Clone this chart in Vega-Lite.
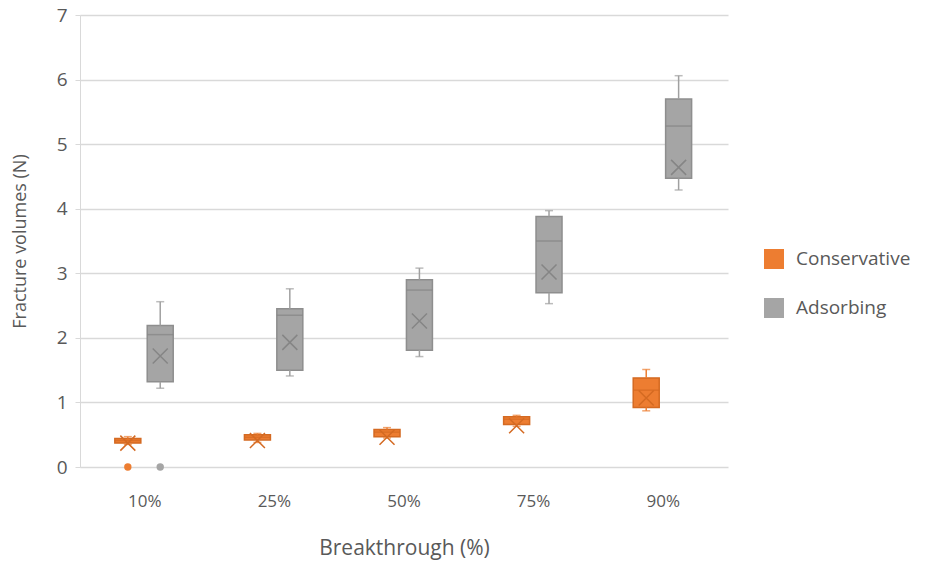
{
  "$schema": "https://vega.github.io/schema/vega-lite/v6.json",
  "width": 648,
  "height": 452,
  "autosize": "none",
  "padding": {"left": 80, "top": 15, "right": 197, "bottom": 96},
  "background": "white",
  "config": {
    "font": "Open Sans",
    "view": {"stroke": null}
  },
  "datasets": {
    "stats": [
      {"cat": "10%", "series": "Conservative", "min": 0.35, "q1": 0.37, "median": 0.41, "q3": 0.44, "max": 0.47, "mean": 0.37},
      {"cat": "25%", "series": "Conservative", "min": 0.38, "q1": 0.42, "median": 0.46, "q3": 0.5, "max": 0.52, "mean": 0.41},
      {"cat": "50%", "series": "Conservative", "min": 0.45, "q1": 0.47, "median": 0.54, "q3": 0.58, "max": 0.61, "mean": 0.46},
      {"cat": "75%", "series": "Conservative", "min": 0.63, "q1": 0.66, "median": 0.74, "q3": 0.78, "max": 0.8, "mean": 0.64},
      {"cat": "90%", "series": "Conservative", "min": 0.87, "q1": 0.92, "median": 1.19, "q3": 1.38, "max": 1.51, "mean": 1.07},
      {"cat": "10%", "series": "Adsorbing", "min": 1.22, "q1": 1.32, "median": 2.05, "q3": 2.19, "max": 2.56, "mean": 1.72},
      {"cat": "25%", "series": "Adsorbing", "min": 1.41, "q1": 1.5, "median": 2.35, "q3": 2.45, "max": 2.76, "mean": 1.93},
      {"cat": "50%", "series": "Adsorbing", "min": 1.71, "q1": 1.81, "median": 2.74, "q3": 2.9, "max": 3.08, "mean": 2.26},
      {"cat": "75%", "series": "Adsorbing", "min": 2.53, "q1": 2.7, "median": 3.5, "q3": 3.88, "max": 3.97, "mean": 3.02},
      {"cat": "90%", "series": "Adsorbing", "min": 4.29, "q1": 4.47, "median": 5.28, "q3": 5.7, "max": 6.06, "mean": 4.64}
    ],
    "outliers": [
      {"cat": "10%", "series": "Conservative", "value": 0},
      {"cat": "10%", "series": "Adsorbing", "value": 0}
    ]
  },
  "resolve": {"scale": {"color": "independent"}},
  "encoding": {
    "x": {
      "field": "cat", "type": "nominal", "sort": ["10%", "25%", "50%", "75%", "90%"],
      "scale": {"paddingInner": 0, "paddingOuter": 0},
      "axis": {
        "title": "Breakthrough (%)", "labelAngle": 0, "domain": false, "ticks": false,
        "labelFontSize": 17, "labelColor": "#595959", "labelPadding": 26,
        "titleFontSize": 21, "titleColor": "#595959", "titleFontWeight": "normal", "titlePadding": 28
      }
    },
    "xOffset": {
      "field": "series", "type": "nominal",
      "scale": {"domain": ["Conservative", "Adsorbing"], "paddingInner": 0, "paddingOuter": 1.31, "align": 0.488}
    }
  },
  "layer": [
    {
      "data": {"name": "stats"},
      "mark": {"type": "bar", "width": 26, "strokeWidth": 1.5},
      "encoding": {
        "y": {
          "field": "q1", "type": "quantitative",
          "scale": {"domain": [0, 7], "nice": false},
          "axis": {
            "title": "Fracture volumes (N)", "values": [0, 1, 2, 3, 4, 5, 6, 7], "format": "d",
            "grid": true, "gridColor": "#D9D9D9", "gridWidth": 1.3,
            "domainColor": "#D9D9D9", "tickColor": "#D9D9D9", "tickSize": 5,
            "labelFontSize": 19, "labelColor": "#595959", "labelPadding": 8,
            "titleFontSize": 18, "titleColor": "#595959", "titleFontWeight": "normal", "titlePadding": 27
          }
        },
        "y2": {"field": "q3"},
        "color": {
          "field": "series", "type": "nominal", "title": null,
          "scale": {"domain": ["Conservative", "Adsorbing"], "range": ["#ED7D31", "#A5A5A5"]},
          "legend": {
            "orient": "none", "legendX": 683, "legendY": 233,
            "symbolType": "square", "symbolSize": 400, "symbolStrokeWidth": 1.2,
            "labelFontSize": 19, "labelColor": "#595959", "labelOffset": 11,
            "rowPadding": 28, "labelLimit": 300
          }
        },
        "stroke": {
          "field": "series", "type": "nominal",
          "scale": {"domain": ["Conservative", "Adsorbing"], "range": ["#D46A22", "#8E8E8E"]},
          "legend": null
        }
      }
    },
    {
      "data": {"name": "stats"},
      "mark": {"type": "rule", "strokeWidth": 1.5},
      "encoding": {
        "y": {"field": "min", "type": "quantitative"},
        "y2": {"field": "q1"},
        "color": {"field": "series", "type": "nominal", "scale": {"domain": ["Conservative", "Adsorbing"], "range": ["#ED7D31", "#A0A0A0"]}, "legend": null}
      }
    },
    {
      "data": {"name": "stats"},
      "mark": {"type": "rule", "strokeWidth": 1.5},
      "encoding": {
        "y": {"field": "q3", "type": "quantitative"},
        "y2": {"field": "max"},
        "color": {"field": "series", "type": "nominal", "scale": {"domain": ["Conservative", "Adsorbing"], "range": ["#ED7D31", "#A0A0A0"]}, "legend": null}
      }
    },
    {
      "data": {"name": "stats"},
      "mark": {"type": "tick", "size": 8, "thickness": 1.5},
      "encoding": {
        "y": {"field": "max", "type": "quantitative"},
        "color": {"field": "series", "type": "nominal", "scale": {"domain": ["Conservative", "Adsorbing"], "range": ["#ED7D31", "#A0A0A0"]}, "legend": null}
      }
    },
    {
      "data": {"name": "stats"},
      "mark": {"type": "tick", "size": 8, "thickness": 1.5},
      "encoding": {
        "y": {"field": "min", "type": "quantitative"},
        "color": {"field": "series", "type": "nominal", "scale": {"domain": ["Conservative", "Adsorbing"], "range": ["#ED7D31", "#A0A0A0"]}, "legend": null}
      }
    },
    {
      "data": {"name": "stats"},
      "mark": {"type": "tick", "size": 26, "thickness": 1.5},
      "encoding": {
        "y": {"field": "median", "type": "quantitative"},
        "color": {"field": "series", "type": "nominal", "scale": {"domain": ["Conservative", "Adsorbing"], "range": ["#D46A22", "#858585"]}, "legend": null}
      }
    },
    {
      "data": {"name": "stats"},
      "mark": {"type": "point", "shape": "M-1,-1L1,1M1,-1L-1,1", "size": 225, "filled": false, "strokeWidth": 1.5, "opacity": 1},
      "encoding": {
        "y": {"field": "mean", "type": "quantitative"},
        "color": {"field": "series", "type": "nominal", "scale": {"domain": ["Conservative", "Adsorbing"], "range": ["#D46A22", "#858585"]}, "legend": null}
      }
    },
    {
      "data": {"name": "outliers"},
      "mark": {"type": "point", "shape": "circle", "size": 55, "filled": true, "opacity": 1},
      "encoding": {
        "y": {"field": "value", "type": "quantitative"},
        "color": {"field": "series", "type": "nominal", "scale": {"domain": ["Conservative", "Adsorbing"], "range": ["#ED7D31", "#A5A5A5"]}, "legend": null}
      }
    }
  ]
}
